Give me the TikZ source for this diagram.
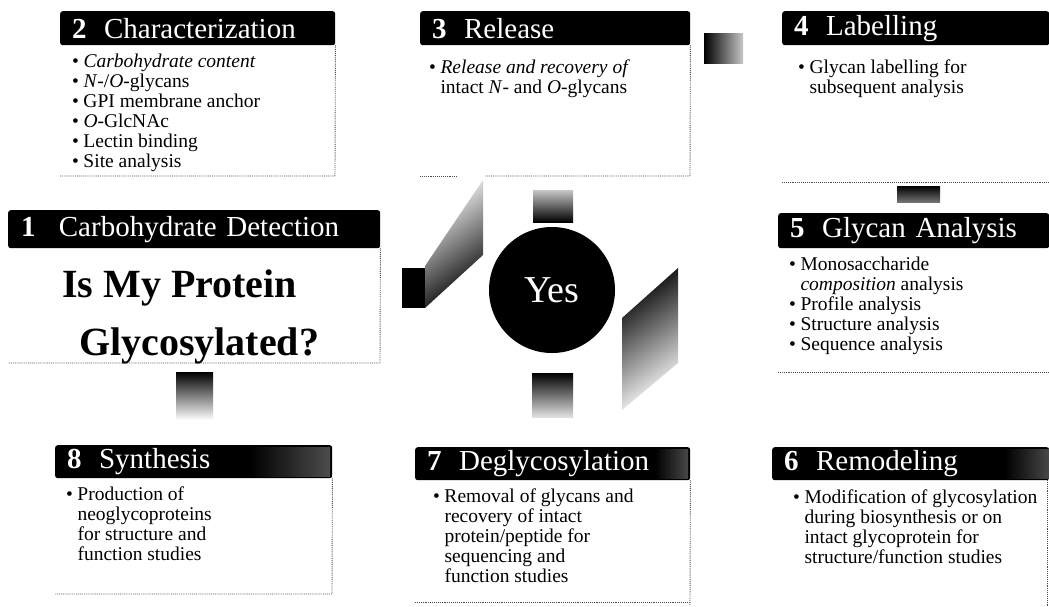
\documentclass[tikz,border=0pt]{standalone}
\usepackage{fontspec}
\setmainfont{Liberation Serif}
\newcommand{\hfnt}{\fontsize{29}{30}\selectfont}
\newcommand{\bfnt}{\fontsize{19.5}{20}\selectfont}
\newcommand{\qfnt}{\fontsize{40}{50}\selectfont\bfseries}
\newcommand{\yfnt}{\fontsize{38}{40}\selectfont}
\newcommand{\bitem}[1]{\makebox[0.58em][l]{\textbullet}#1}
\newcommand{\cont}{\hspace*{0.58em}}
\newcommand{\hgap}{\hspace{0.6em}}
\begin{document}
\begin{tikzpicture}[x=1pt,y=-1pt,
  hdr/.style={fill=black, rounded corners=2.5pt, text=white, font=\hfnt, anchor=north west, inner xsep=12pt, inner ysep=0pt, align=left},
  body/.style={font=\bfnt, align=left, inner sep=0pt, anchor=north west},
  frame/.style={draw=black!70, line width=0.9pt, densely dotted},
  bigq/.style={font=\qfnt, inner sep=0pt, anchor=base west},
]
\useasboundingbox[fill=white] (0,0) rectangle (1049,606);

% ---- headers ----
\node[hdr, minimum width=275pt, minimum height=34pt, text width=251pt] (h2) at (60,11) {\textbf{2}\hgap Characterization};
\node[hdr, minimum width=270pt, minimum height=34pt, text width=246pt] (h3) at (420,11) {\textbf{3}\hgap Release};
\node[hdr, minimum width=267pt, minimum height=34pt, text width=243pt] (h4) at (782,11) {\textbf{4}\hgap Labelling};
\node[hdr, minimum width=372pt, minimum height=38pt, text width=346pt, inner xsep=13pt] (h1) at (8,210) {\textbf{1}\hspace{0.8em}Carbohydrate Detection};
\node[hdr, minimum width=271pt, minimum height=35pt, text width=247pt] (h5) at (778,213) {\textbf{5}\hgap Glycan Analysis};
\node[hdr, minimum width=277pt, minimum height=33pt, text width=253pt] (h8) at (55,445) {\textbf{8}\hgap Synthesis};
\node[hdr, minimum width=275pt, minimum height=33pt, text width=251pt] (h7) at (415,447) {\textbf{7}\hgap Deglycosylation};
\node[hdr, minimum width=277pt, minimum height=33pt, text width=253pt] (h6) at (772,447) {\textbf{6}\hgap Remodeling};

% worn, speckled right ends of the lower headers
\shade[left color=black, right color=black!70] (250,447) rectangle (330,476);
\shade[left color=black, right color=black!72] (655,449) rectangle (688,478);
\shade[left color=black, right color=black!72] (1005,449) rectangle (1049,478);

% ---- bodies ----
\node[body] (b2) at (72,54) {\bitem{\textit{Carbohydrate content}}\\
\bitem{\textit{N}-/\textit{O}-glycans}\\
\bitem{GPI membrane anchor}\\
\bitem{\textit{O}-GlcNAc}\\
\bitem{Lectin binding}\\
\bitem{Site analysis}};
\node[body] (b3) at (429,60) {\bitem{\textit{Release and recovery of}}\\
\cont intact \textit{N}- and \textit{O}-glycans};
\node[body] (b4) at (798,60) {\bitem{Glycan labelling for}\\
\cont subsequent analysis};
\node[body] (b5) at (789,257) {\bitem{Monosaccharide}\\
\cont\textit{composition} analysis\\
\bitem{Profile analysis}\\
\bitem{Structure analysis}\\
\bitem{Sequence analysis}};
\node[body] (b8) at (66,487) {\bitem{Production of}\\
\cont neoglycoproteins\\
\cont for structure and\\
\cont function studies};
\node[body] (b7) at (433,489) {\bitem{Removal of glycans and}\\
\cont recovery of intact\\
\cont protein/peptide for\\
\cont sequencing and\\
\cont function studies};
\node[body] (b6) at (793,490) {\bitem{Modification of glycosylation}\\
\cont during biosynthesis or on\\
\cont intact glycoprotein for\\
\cont structure/function studies};

\node[bigq] (q1) at (62,297) {Is My Protein};
\node[bigq] (q2) at (79,355) {Glycosylated?};

% ---- frames ----
\draw[frame] (h2.south east) -- (335,176) -- (60,176);
\draw[frame] (h3.south east) -- (690,176) -- (485,176);
\draw[frame] (457,176) -- (420,176);
\draw[frame] (782,182) -- (1049,182);
\draw[frame] (h1.south east) -- (380,363) -- (8,363);
\draw[frame] (778,372) -- (1049,372);
\draw[frame] (h8.south east) -- (332,594) -- (55,594);
\draw[frame] (h7.south east) -- (690,606);
\draw[frame] (415,602) -- (690,602);
\draw[frame] (1047,480) -- (1047,606);

% ---- centre ----
\node[circle, fill=black, minimum size=126pt, inner sep=0pt, text=white, font=\yfnt] (yes) at (552,290) {Yes};

% ---- connector blocks ----
\shade[left color=black, right color=black!22] (704,33) rectangle (743,63);
\shade[top color=black, bottom color=black!55] (897,186) rectangle (940,202);
\shade[top color=black, bottom color=white] (176,372) rectangle (213,420);
\shade[top color=black!22, bottom color=black] (533,190) rectangle (573,222);
\shade[top color=black, bottom color=black!12] (532,373) rectangle (573,417);
\fill[black] (402,268) rectangle (425,308);
\shade[top color=white, bottom color=black, shading angle=35] (425,266) -- (425,308) -- (483,255) -- (483,180) -- cycle;
\shade[top color=black, bottom color=white, shading angle=35] (622,318) -- (678,268) -- (678,363) -- (622,410) -- cycle;
\end{tikzpicture}
\end{document}
